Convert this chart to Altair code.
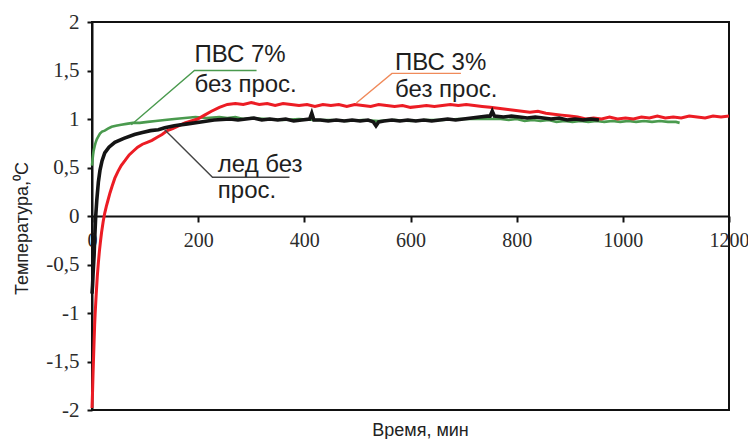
import altair as alt
import pandas as pd

# ---- data ----
red_t = [0, 1, 2, 3, 4, 5, 6, 8, 10, 12, 14, 16, 18, 21, 24, 27, 30, 34, 38, 43, 49, 55, 62, 70, 78, 86, 95, 104, 113,
         122, 132, 142, 152, 163, 175, 187, 199, 212, 225, 240, 255, 270, 285, 300, 315, 330, 345, 360, 375, 390, 405,
         420, 435, 450, 465, 480, 495, 510, 525, 540, 555, 570, 585, 600, 615, 630, 645, 660, 675, 690, 705, 720, 735,
         750, 765, 780, 795, 810, 825, 840, 855, 870, 885, 900, 915, 930, 945, 960, 975, 990, 1005, 1020, 1035, 1050,
         1065, 1080, 1095, 1110, 1125, 1140, 1155, 1170, 1185, 1200]
red_T = [-1.98, -1.82, -1.62, -1.45, -1.28, -1.12, -1.0, -0.8, -0.62, -0.48, -0.36, -0.26, -0.17, -0.06, 0.03, 0.1,
         0.16, 0.24, 0.31, 0.39, 0.46, 0.52, 0.57, 0.63, 0.67, 0.71, 0.74, 0.76, 0.78, 0.81, 0.84, 0.88, 0.9, 0.93,
         0.96, 0.98, 1.0, 1.04, 1.08, 1.12, 1.15, 1.16, 1.15, 1.17, 1.15, 1.16, 1.14, 1.16, 1.15, 1.14, 1.15, 1.13,
         1.15, 1.14, 1.15, 1.13, 1.15, 1.14, 1.13, 1.15, 1.14, 1.13, 1.14, 1.12, 1.13, 1.14, 1.13, 1.14, 1.15, 1.14,
         1.15, 1.14, 1.13, 1.12, 1.11, 1.1, 1.09, 1.08, 1.07, 1.08, 1.06, 1.05, 1.04, 1.03, 1.02, 1.0, 1.01, 1.0,
         1.02, 1.0, 1.01, 1.0, 1.02, 1.01, 1.03, 1.01, 1.02, 1.01, 1.03, 1.02, 1.01, 1.03, 1.02, 1.03]

black_t = [0, 1, 2, 3, 4, 5, 6, 7, 9, 12, 15, 19, 24, 32, 43, 60, 80, 95, 110, 125, 137, 155, 180, 205, 230, 260,
           275, 290, 305, 320, 335, 350, 365, 380, 395, 410, 414, 418, 430, 445, 460, 475, 490, 505, 520, 530, 535,
           540, 550, 565, 580, 595, 610, 625, 640, 655, 670, 685, 700, 715, 730, 745, 750, 754, 758, 775, 790, 805,
           820, 835, 850, 865, 880, 895, 910, 925, 940, 955]
black_T = [-0.8, -0.72, -0.6, -0.5, -0.4, -0.25, -0.12, 0.0, 0.16, 0.35, 0.47, 0.57, 0.65, 0.71, 0.76, 0.8, 0.84,
           0.86, 0.88, 0.89, 0.91, 0.93, 0.95, 0.97, 0.99, 1.0, 0.99, 1.0, 1.01, 0.99, 1.0, 0.99, 1.0, 0.98, 0.99,
           1.0, 1.06, 0.99, 0.99, 0.98, 0.99, 0.98, 0.99, 0.98, 0.99, 0.97, 0.93, 0.97, 0.98, 0.99, 0.98, 0.99, 0.98,
           0.99, 0.98, 0.99, 1.0, 0.99, 1.0, 1.01, 1.02, 1.03, 1.03, 1.08, 1.03, 1.02, 1.03, 1.02, 1.01, 1.02, 1.01,
           1.0, 1.01, 0.99, 1.0, 0.99, 1.0, 0.99]

green_t = [0, 1, 2, 3, 5, 7, 9, 12, 15, 19, 24, 30, 37, 45, 55, 65, 77, 90, 105, 120, 137, 155, 175, 195, 215, 240,
           255, 270, 285, 300, 330, 360, 390, 420, 450, 480, 510, 540, 570, 600, 630, 660, 690, 720, 750, 770, 785,
           800, 815, 830, 845, 860, 875, 890, 905, 920, 935, 950, 965, 980, 995, 1010, 1025, 1040, 1055, 1070, 1085,
           1100, 1107]
green_T = [0.52, 0.58, 0.63, 0.67, 0.72, 0.76, 0.79, 0.82, 0.85, 0.87, 0.88, 0.9, 0.92, 0.93, 0.94, 0.95, 0.96, 0.96,
           0.97, 0.98, 0.99, 1.0, 1.01, 1.02, 1.01, 1.02, 1.01, 1.02, 1.0, 1.01, 1.0, 0.99, 1.0, 0.99, 0.99, 0.98,
           0.99, 0.98, 0.99, 0.98, 0.99, 0.99, 1.0, 1.0, 1.0, 1.0, 0.99, 1.0, 0.98, 0.99, 0.98, 0.99, 0.97, 0.98,
           0.97, 0.98, 0.97, 0.98, 0.97, 0.98, 0.97, 0.98, 0.97, 0.98, 0.97, 0.98, 0.97, 0.97, 0.96]

# annotation labels (data coordinates)
label_text = ["ПВС 7%", "без прос.", "ПВС 3%", "без прос.", "лед без", "прос."]
label_t = [193, 193, 571, 571, 237, 237]
label_T = [1.59, 1.28, 1.505, 1.23, 0.455, 0.185]

# leader lines (data coordinates)
lead_green_t = [74, 193, 310]
lead_green_T = [0.94, 1.5, 1.5]
lead_orange_t = [498, 565, 695]
lead_orange_T = [1.165, 1.47, 1.47]
lead_dark_t = [137, 227, 372]
lead_dark_T = [0.89, 0.40, 0.40]

x_ticks = [0, 200, 400, 600, 800, 1000, 1200]
y_ticks = [-2, -1.5, -1, -0.5, 0, 0.5, 1, 1.5, 2]

W, H = 637, 388

xs = alt.Scale(domain=[0, 1200], nice=False, zero=False)
ys = alt.Scale(domain=[-2, 2], nice=False)

xaxis = alt.Axis(values=x_ticks, format="d", orient="bottom", offset=-H / 2, grid=False,
                 labelFont="Liberation Serif", labelFontSize=20, labelColor="#2b2b2b",
                 labelPadding=8, labelFlush=False, labelOverlap=False,
                 tickColor="#111", tickSize=6, tickWidth=2,
                 domainColor="#111", domainWidth=2,
                 title="Время, мин", titleFont="Liberation Sans", titleFontSize=18,
                 titleFontWeight="normal", titleColor="#222",
                 titleX=328, titleY=219, titleBaseline="alphabetic", titleAlign="center")
yaxis = alt.Axis(values=y_ticks, orient="left", grid=False,
                 labelExpr="datum.value % 1 == 0 ? toString(datum.value) + '\u00a0' : replace(toString(datum.value), '.', ',')",
                 labelFont="Liberation Serif", labelFontSize=21, labelColor="#2b2b2b",
                 labelPadding=8, labelFlush=False, labelOverlap=False,
                 tickColor="#111", tickSize=5, tickWidth=2,
                 domainColor="#111", domainWidth=2,
                 title="Температура,⁰С", titleFont="Liberation Sans", titleFontSize=18,
                 titleFontWeight="normal", titleColor="#222", titleAngle=270,
                 titleX=-70, titleY=206, titleBaseline="middle", titleAlign="center")


def line(t, T, color, width):
    df = pd.DataFrame({"t": t, "T": T})
    return alt.Chart(df).mark_line(color=color, strokeWidth=width).encode(
        x=alt.X("t:Q", scale=xs, axis=xaxis),
        y=alt.Y("T:Q", scale=ys, axis=yaxis),
    )


green = line(green_t, green_T, "#4a9a4e", 2.6)
red = line(red_t, red_T, "#ec1c24", 3.0)
black = line(black_t, black_T, "#141414", 3.6)

lead_g = line(lead_green_t, lead_green_T, "#4a9a4e", 1.4)
lead_o = line(lead_orange_t, lead_orange_T, "#f08a5a", 1.4)
lead_d = line(lead_dark_t, lead_dark_T, "#444444", 1.4)

labels = alt.Chart(pd.DataFrame({"t": label_t, "T": label_T, "text": label_text})).mark_text(
    align="left", baseline="alphabetic", font="Liberation Sans", fontSize=24, color="#1e1e1e"
).encode(x=alt.X("t:Q", scale=xs, axis=xaxis), y=alt.Y("T:Q", scale=ys, axis=yaxis), text="text:N")

chart = alt.layer(green, red, black, lead_g, lead_o, lead_d, labels).properties(
    width=W, height=H,
    background="white",
    autosize=alt.AutoSizeParams(type="none"),
    padding={"left": 84, "top": 14, "right": 19, "bottom": 29},
).configure_view(stroke="#111", strokeWidth=2)

chart.save("out.html", embed_options={"renderer": "svg", "actions": False})
